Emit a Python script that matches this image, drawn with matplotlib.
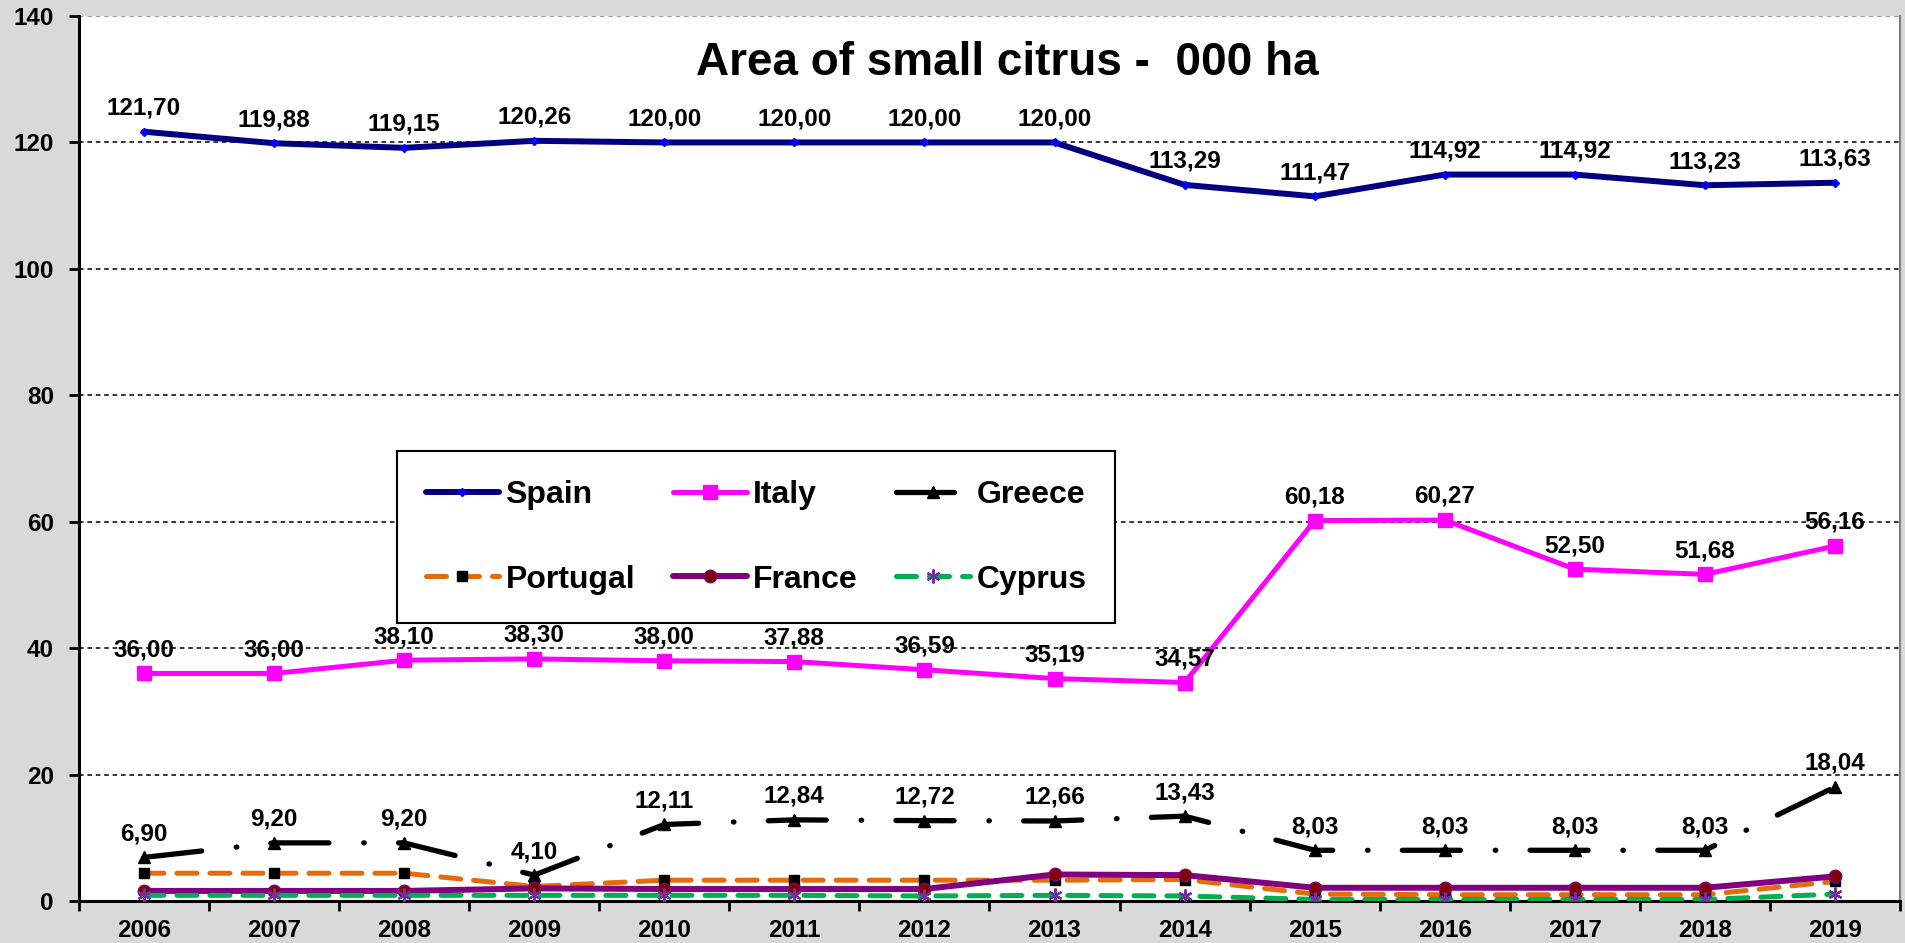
import matplotlib
matplotlib.use("Agg")
import matplotlib.pyplot as plt
from matplotlib.ticker import FixedLocator, NullFormatter, FixedFormatter

plt.rcParams["font.family"] = ["Liberation Sans", "DejaVu Sans"]
plt.rcParams["font.weight"] = "bold"

years = ["2006", "2007", "2008", "2009", "2010", "2011", "2012",
         "2013", "2014", "2015", "2016", "2017", "2018", "2019"]

spain = [121.70, 119.88, 119.15, 120.26, 120.00, 120.00, 120.00,
         120.00, 113.29, 111.47, 114.92, 114.92, 113.23, 113.63]
italy = [36.00, 36.00, 38.10, 38.30, 38.00, 37.88, 36.59,
         35.19, 34.57, 60.18, 60.27, 52.50, 51.68, 56.16]
greece = [6.90, 9.20, 9.20, 4.10, 12.11, 12.84, 12.72,
          12.66, 13.43, 8.03, 8.03, 8.03, 8.03, 18.04]
portugal = [4.4, 4.4, 4.4, 2.3, 3.3, 3.3, 3.3,
            3.3, 3.4, 1.1, 1.0, 1.0, 1.0, 3.1]
france = [1.6, 1.6, 1.6, 2.0, 1.9, 1.9, 1.9,
          4.2, 4.1, 2.1, 2.1, 2.1, 2.1, 3.9]
cyprus = [0.9, 0.9, 0.9, 0.9, 0.9, 0.9, 0.8,
          0.9, 0.8, 0.25, 0.25, 0.25, 0.25, 1.1]

title = "Area of small citrus -  000 ha"

fig = plt.figure(figsize=(19.06, 9.43), dpi=100, facecolor="#D9D9D9")
ax = fig.add_axes([0.0414, 0.0445, 0.9555, 0.9385])
ax.set_facecolor("white")

x = list(range(len(years)))

# grid first so lines sit above
for yv in range(20, 141, 20):
    ax.axhline(yv, color="black" if yv < 140 else "#808080", lw=1.1,
               ls=(0, (3, 2.5)), zorder=1)

common = dict(solid_capstyle="round", dash_capstyle="round", zorder=3)

l_spain, = ax.plot(x, spain, color="#000080", lw=4.3, marker="D", ms=4,
                   mfc="#0000FF", mec="#0000FF", label="Spain", **common)
l_italy, = ax.plot(x, italy, color="#FF00FF", lw=3.6, marker="s", ms=9.5,
                   mfc="#FF00FF", mec="#FF00FF", label="Italy", **common)
l_greece, = ax.plot(x, greece, color="black", lw=3.8, marker="^", ms=9,
                    ls=(0, (11, 6.6, 0.1, 6.5)), label="Greece", **common)
l_port, = ax.plot(x, portugal, color="#E46C0A", lw=3.6, marker="s", ms=7,
                  mfc="black", mec="black", ls=(0, (4, 2.6)),
                  label="Portugal", **common)
l_france, = ax.plot(x, france, color="#800080", lw=4.3, marker="o", ms=9,
                    mfc="#800000", mec="#800080", label="France", **common)
l_cyprus, = ax.plot(x, cyprus, color="#00B050", lw=3.6, marker=(6, 2, 0),
                    ms=10, mec="#7030A0", mfc="#7030A0", mew=1.6,
                    ls=(0, (4, 2.6)), label="Cyprus", **common)

for series in (spain, italy, greece):
    for xi, v in zip(x, series):
        ax.annotate(f"{v:.2f}".replace(".", ","), (xi, v),
                    xytext=(0, 17), textcoords="offset points",
                    ha="center", va="center", fontsize=17.5,
                    fontweight="bold", zorder=5)

ax.set_xlim(-0.5, len(years) - 0.5)
ax.set_ylim(0, 140)

ax.xaxis.set_major_locator(FixedLocator([i - 0.5 for i in range(len(years) + 1)]))
ax.xaxis.set_major_formatter(NullFormatter())
ax.xaxis.set_minor_locator(FixedLocator(x))
ax.xaxis.set_minor_formatter(FixedFormatter(years))
ax.tick_params(axis="x", which="major", direction="out", length=7, width=2)
ax.tick_params(axis="x", which="minor", length=0, pad=13, labelsize=17.5)

ax.set_yticks(range(0, 141, 20))
ax.tick_params(axis="y", direction="out", length=7, width=2, pad=11,
               labelsize=17.5)

for lbl in ax.get_xticklabels(minor=True) + ax.get_yticklabels():
    lbl.set_fontweight("bold")

ax.spines["left"].set_linewidth(2.2)
ax.spines["bottom"].set_linewidth(2.2)
ax.spines["right"].set_color("#808080")
ax.spines["right"].set_linewidth(1.5)
ax.spines["top"].set_visible(False)

ax.text(0.51, 0.947, title, transform=ax.transAxes, ha="center",
        va="center", fontsize=33, fontweight="bold")

handles = [l_spain, l_port, l_italy, l_france, l_greece, l_cyprus]
leg = ax.legend(handles=handles, labels=[h.get_label() for h in handles],
                ncol=3, loc="upper left", mode="expand",
                bbox_to_anchor=(0.1746, 0.3107, 0.3944, 0.1973),
                fontsize=23, frameon=True, fancybox=False,
                edgecolor="black", framealpha=1, borderpad=0.9,
                labelspacing=1.7, handlelength=2.3, handletextpad=0.2,
                columnspacing=1.0, borderaxespad=0)
leg.get_frame().set_linewidth(1.5)
for t in leg.get_texts():
    t.set_fontweight("bold")
leg.set_zorder(6)

fig.savefig("out.png", dpi=100, facecolor=fig.get_facecolor())
